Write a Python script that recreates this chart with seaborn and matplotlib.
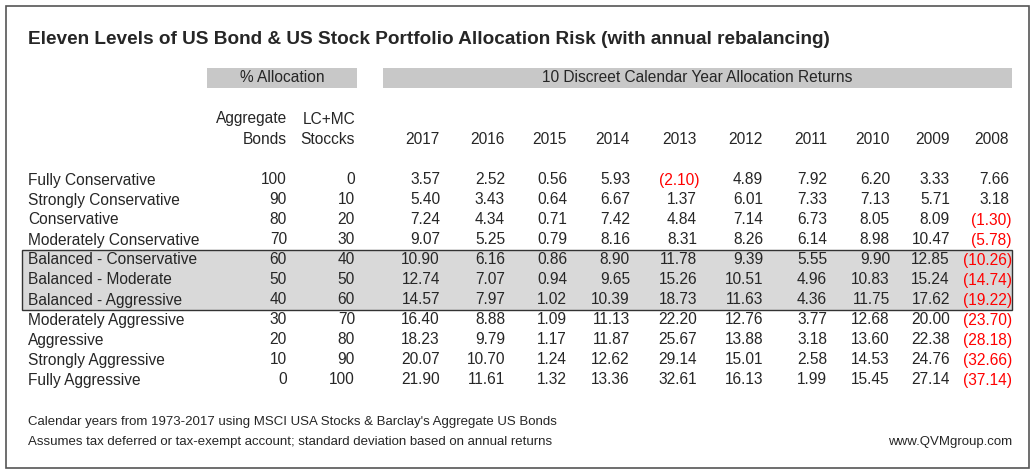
import matplotlib
matplotlib.use("Agg")
import matplotlib.pyplot as plt
import seaborn as sns
from matplotlib.patches import Rectangle

sns.set_style("white")
plt.rcParams['font.family'] = ['Liberation Sans', 'DejaVu Sans']

# data
portfolios = ["Fully Conservative", "Strongly Conservative", "Conservative",
              "Moderately Conservative", "Balanced - Conservative", "Balanced - Moderate",
              "Balanced - Aggressive", "Moderately Aggressive", "Aggressive",
              "Strongly Aggressive", "Fully Aggressive"]
bonds = [100, 90, 80, 70, 60, 50, 40, 30, 20, 10, 0]
stocks = [0, 10, 20, 30, 40, 50, 60, 70, 80, 90, 100]
years = [2017, 2016, 2015, 2014, 2013, 2012, 2011, 2010, 2009, 2008]
returns = [
    [3.57, 2.52, 0.56, 5.93, -2.10, 4.89, 7.92, 6.20, 3.33, 7.66],
    [5.40, 3.43, 0.64, 6.67, 1.37, 6.01, 7.33, 7.13, 5.71, 3.18],
    [7.24, 4.34, 0.71, 7.42, 4.84, 7.14, 6.73, 8.05, 8.09, -1.30],
    [9.07, 5.25, 0.79, 8.16, 8.31, 8.26, 6.14, 8.98, 10.47, -5.78],
    [10.90, 6.16, 0.86, 8.90, 11.78, 9.39, 5.55, 9.90, 12.85, -10.26],
    [12.74, 7.07, 0.94, 9.65, 15.26, 10.51, 4.96, 10.83, 15.24, -14.74],
    [14.57, 7.97, 1.02, 10.39, 18.73, 11.63, 4.36, 11.75, 17.62, -19.22],
    [16.40, 8.88, 1.09, 11.13, 22.20, 12.76, 3.77, 12.68, 20.00, -23.70],
    [18.23, 9.79, 1.17, 11.87, 25.67, 13.88, 3.18, 13.60, 22.38, -28.18],
    [20.07, 10.70, 1.24, 12.62, 29.14, 15.01, 2.58, 14.53, 24.76, -32.66],
    [21.90, 11.61, 1.32, 13.36, 32.61, 16.13, 1.99, 15.45, 27.14, -37.14],
]
highlight = [4, 5, 6]

fig = plt.figure(figsize=(10.35, 4.75), dpi=100)
ax = fig.add_axes([0, 0, 1, 1])
ax.set_xlim(0, 1035)
ax.set_ylim(475, 0)
ax.axis("off")

fs = 11.2
ax.add_patch(Rectangle((6, 6), 1023, 462, fill=False, edgecolor="#555555", lw=1.2))
ax.text(28, 40, "Eleven Levels of US Bond & US Stock Portfolio Allocation Risk (with annual rebalancing)",
        fontsize=13.7, fontweight="bold", va="center")

gray = "#c8c8c8"
ax.add_patch(Rectangle((207, 68), 150, 20, color=gray, lw=0))
ax.add_patch(Rectangle((383, 68), 629, 20, color=gray, lw=0))
ax.text(282, 78, "% Allocation", fontsize=fs, ha="center", va="center")
ax.text(697, 78, "10 Discreet Calendar Year Allocation Returns", fontsize=fs, ha="center", va="center")

ax.text(287, 119, "Aggregate", fontsize=fs, ha="right", va="center")
ax.text(287, 139, "Bonds", fontsize=fs, ha="right", va="center")
ax.text(355, 119, "LC+MC", fontsize=fs, ha="right", va="center")
ax.text(355, 139, "Stoccks", fontsize=fs, ha="right", va="center")

xs = [440, 505, 567, 630, 697, 763, 827, 890, 950, 1009]
for x, y in zip(xs, years):
    ax.text(x, 139, str(y), fontsize=fs, ha="right", va="center")

y0, dy = 180, 20
ax.add_patch(Rectangle((22, y0 + highlight[0] * dy - 10), 990, len(highlight) * dy,
                       facecolor="#d9d9d9", edgecolor="#333333", lw=1))
for i, name in enumerate(portfolios):
    y = y0 + i * dy
    ax.text(28, y, name, fontsize=fs, va="center")
    ax.text(287, y, str(bonds[i]), fontsize=fs, ha="right", va="center")
    ax.text(355, y, str(stocks[i]), fontsize=fs, ha="right", va="center")
    for x, v in zip(xs, returns[i]):
        if v < 0:
            ax.text(x + 3, y, f"({-v:.2f})", fontsize=fs, ha="right", va="center", color="red")
        else:
            ax.text(x, y, f"{v:.2f}", fontsize=fs, ha="right", va="center")

ax.text(28, 422, "Calendar years from 1973-2017 using MSCI USA Stocks & Barclay's Aggregate US Bonds",
        fontsize=9.5, va="center")
ax.text(28, 442, "Assumes tax deferred or tax-exempt account; standard deviation based on annual returns",
        fontsize=9.5, va="center")
ax.text(1012, 442, "www.QVMgroup.com", fontsize=9.5, ha="right", va="center")

fig.savefig("out.png", dpi=100)
